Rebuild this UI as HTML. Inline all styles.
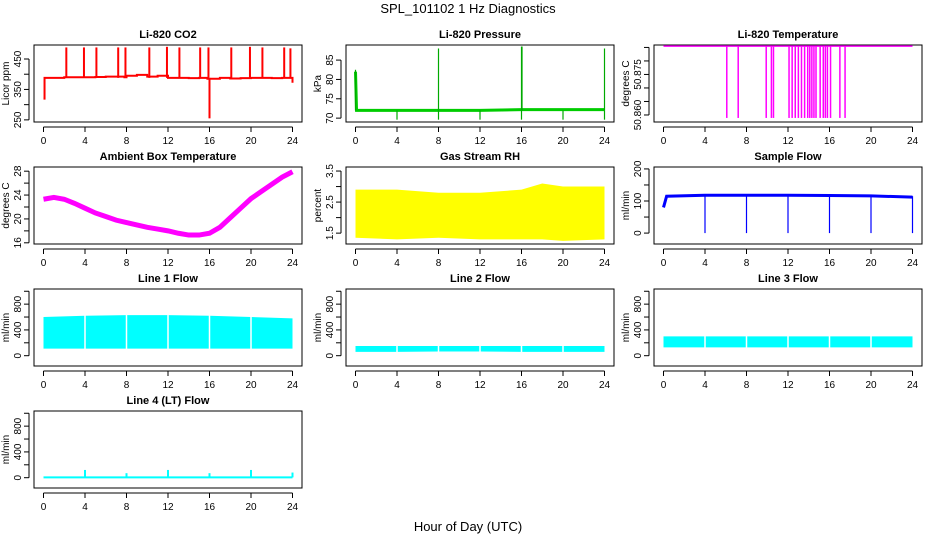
<!DOCTYPE html>
<html><head><meta charset="utf-8"><style>
body{margin:0;background:#fff;}
svg{display:block;font-family:"Liberation Sans",sans-serif;}
</style></head><body>
<svg id="c" width="936" height="540">
<text x="468" y="13" font-size="13" text-anchor="middle">SPL_101102  1 Hz Diagnostics</text>
<text x="468" y="531" font-size="13" text-anchor="middle">Hour of Day (UTC)</text>
</svg>
<script>
// ---- data ----
const xTicks=[0,4,8,12,16,20,24];
const co2Hours=[0,0.1,1,2,3,4,5,6,7,7.8,8,9,10,11,12,13,14,15,15.8,16,17,18,19,20,21,22,23,24];
const co2Base=[320,388,388,390,390,390,391,392,392,390,395,398,392,395,388,388,387,388,385,385,388,386,387,388,388,387,388,372];
const co2SpikeHours=[2.2,3.9,5.1,7.2,7.9,10.2,11.9,13.1,15.1,15.9,16,18.1,19.9,21.1,23.2,23.8];
const co2SpikeVals=[488,488,488,488,488,488,490,488,488,488,255,488,490,488,488,485];
const presHours=[0,0.1,4,8,12,16,20,24];
const presBase=[82,72,72,72,72,72.2,72.2,72.2];
const presSpikeHours=[0,8,16,16.05,24];
const presSpikeVals=[82.5,88,88.5,88.5,88];
const presDipHours=[4,8,12,16,20,24];
const presDipVals=[69.6,69.6,69.6,69.6,69.6,69.6];
const tempHigh=50.8855;
const tempDropHours=[6.1,7.2,9.9,10.4,10.6,12.1,12.4,12.7,13,13.3,13.6,13.9,14.1,14.3,14.5,14.7,15.1,15.4,15.6,15.8,16.1,17,17.5];
const tempLow=50.8589;
const ambHours=[0,1,2,3,4,5,6,7,8,9,10,11,12,13,14,15,16,17,18,19,20,21,22,23,24];
const ambVals=[23.3,23.6,23.3,22.6,21.8,21,20.4,19.8,19.4,19,18.6,18.3,18,17.6,17.3,17.3,17.6,18.6,20.2,21.8,23.4,24.6,25.8,27,27.9];
const rhHours=[0,4,8,12,16,18,20,24];
const rhHigh=[2.9,2.9,2.8,2.8,2.9,3.1,3.0,3.0];
const rhLow=[1.35,1.3,1.35,1.3,1.3,1.3,1.25,1.3];
const sfHours=[0,0.3,4,8,12,16,20,24];
const sfVals=[80,115,118,118,118,117,116,112];
const sfDipHours=[4,8,12,16,20,24];
const sfDipVals=[0,0,0,0,0,0];
const l1Hours=[0,4,8,12,16,20,24];
const l1High=[600,620,630,630,620,600,580];
const l1Low=[110,110,110,110,110,110,110];
const l2High=[150,150,150,150,150,150,150];
const l2Low=[60,60,65,65,60,60,60];
const l3High=[300,300,300,300,300,300,300];
const l3Low=[130,130,130,130,130,130,130];
const l4SpikeHours=[4,8,12,16,20,24];
const l4SpikeVals=[120,70,120,70,120,80];
const l4Base=[5,5,5,5,5,5,5];

const svg=document.getElementById('c');
const NS='http://www.w3.org/2000/svg';
function E(tag,attrs,parent){const e=document.createElementNS(NS,tag);for(const k in attrs)e.setAttribute(k,attrs[k]);(parent||svg).appendChild(e);return e;}
const lefts=[34,346,654], tops=[45,167,289,411], W=268, H=77;
function panel(col,row,title,ylab,ymin,ymax,ticks,labels,name){
  const L=lefts[col],T=tops[row];
  const g=E('g',{});
  
  
  const sx=v=>L+9.5+(v/24)*249, sy=v=>T+H-(v-ymin)/(ymax-ymin)*H;
  const t=E('text',{x:L+W/2,y:T-7,'font-size':11,'font-weight':'bold','text-anchor':'middle'},g);t.textContent=title;
  
  const b=E('rect',{x:L,y:T,width:W,height:H,fill:'none',stroke:'#000'},g);
  
  E('line',{x1:sx(0),x2:sx(24),y1:T+H+5,y2:T+H+5,stroke:'#000'},g);
  xTicks.forEach(v=>{E('line',{x1:sx(v),x2:sx(v),y1:T+H+5,y2:T+H+10,stroke:'#000'},g);
    const l=E('text',{x:sx(v),y:T+H+22,'font-size':10,'text-anchor':'middle'},g);l.textContent=v;
    });
  E('line',{x1:L-5,x2:L-5,y1:sy(ticks[0]),y2:sy(ticks[ticks.length-1]),stroke:'#000'},g);
  ticks.forEach((v,i)=>{E('line',{x1:L-10,x2:L-5,y1:sy(v),y2:sy(v),stroke:'#000'},g);
    if(labels[i]){const l=E('text',{x:L-13,y:sy(v),'font-size':10,'text-anchor':'middle',transform:`rotate(-90 ${L-13} ${sy(v)})`},g);l.textContent=labels[i];
    }});
  const yl=E('text',{x:L-25,y:T+H/2,'font-size':10,'text-anchor':'middle',transform:`rotate(-90 ${L-25} ${T+H/2})`},g);yl.textContent=ylab;
  
  return {g,sx,sy};
}
function line(p,xs,ys,col,w,name,step){let d='';xs.forEach((x,i)=>{d+=(i?(step?'H'+p.sx(x)+'V'+p.sy(ys[i]):'L'+p.sx(x)+' '+p.sy(ys[i])):'M'+p.sx(x)+' '+p.sy(ys[i]));});
  const e=E('path',{d,fill:'none',stroke:col,'stroke-width':w},p.g);}
function spikes(p,xs,ys,base,col,w,name){xs.forEach((x,i)=>{const e=E('line',{x1:p.sx(x),x2:p.sx(x),y1:p.sy(base),y2:p.sy(ys[i]),stroke:col,'stroke-width':w},p.g);
  });}
function band(p,xs,hi,lo,col,name,gaps){let d='';xs.forEach((x,i)=>{d+=(i?'L':'M')+p.sx(x)+' '+p.sy(hi[i]);});
  for(let i=xs.length-1;i>=0;i--)d+='L'+p.sx(xs[i])+' '+p.sy(lo[i]);
  const e=E('path',{d:d+'Z',fill:col},p.g);
  (gaps||[]).forEach(x=>{E('line',{x1:p.sx(x),x2:p.sx(x),y1:p.sy(hi[0])-2,y2:p.sy(lo[0])+2,stroke:'#fff','stroke-width':1.5},p.g);});}

// CO2
let p=panel(0,0,'Li-820 CO2','Licor ppm',243,496,[250,300,350,400,450],['250','','350','','450'],'co2');
line(p,co2Hours,co2Base,'#f00',2,'co2-line',true);
spikes(p,co2SpikeHours,co2SpikeVals,388,'#f00',2,'co2-spike');
// Pressure
p=panel(1,0,'Li-820 Pressure','kPa',69,88.9,[70,75,80,85],['70','75','80','85'],'pressure');
line(p,presHours,presBase,'#0c0',3,'pressure-line',false);
spikes(p,presSpikeHours,presSpikeVals,72,'#0a0',1.2,'pressure-spike');
spikes(p,presDipHours,presDipVals,72,'#0a0',1.2,'pressure-dip');
// Temperature
p=panel(2,0,'Li-820 Temperature','degrees C',50.8574,50.8859,[50.860,50.865,50.870,50.875,50.880,50.885],['50.860','','','50.875','',''],'li820-temp');
line(p,[0,24],[tempHigh,tempHigh],'#f0f',1.5,'li820-temp-line',false);
spikes(p,tempDropHours,tempDropHours.map(()=>tempLow),tempHigh,'#f0f',1.5,'li820-temp-drop');
// Ambient
p=panel(0,1,'Ambient Box Temperature','degrees C',15.8,28.7,[16,18,20,22,24,26,28],['16','','20','','24','','28'],'ambient');
line(p,ambHours,ambVals,'#f0f',5,'ambient-line',false);
// RH
p=panel(1,1,'Gas Stream RH','percent',1.15,3.63,[1.5,2,2.5,3,3.5],['1.5','','2.5','','3.5'],'rh');
band(p,rhHours,rhHigh,rhLow,'#ff0','rh-band');
// Sample flow
p=panel(2,1,'Sample Flow','ml/min',-34,206,[0,50,100,150,200],['0','','100','','200'],'sample-flow');
line(p,sfHours,sfVals,'#00f',3,'sample-flow-line',false);
spikes(p,sfDipHours,sfDipVals,115,'#00f',1.2,'sample-flow-dip');
const fT=[0,200,400,600,800,1000],fL=['0','','400','','800',''];
p=panel(0,2,'Line 1 Flow','ml/min',-160,1035,fT,fL,'line1');
band(p,l1Hours,l1High,l1Low,'#0ff','line1-band',[4,8,12,16,20]);
p=panel(1,2,'Line 2 Flow','ml/min',-160,1035,fT,fL,'line2');
band(p,l1Hours,l2High,l2Low,'#0ff','line2-band',[4,8,12,16,20]);
p=panel(2,2,'Line 3 Flow','ml/min',-160,1035,fT,fL,'line3');
band(p,l1Hours,l3High,l3Low,'#0ff','line3-band',[4,8,12,16,20]);
p=panel(0,3,'Line 4 (LT) Flow','ml/min',-160,1035,fT,fL,'line4');
line(p,l1Hours,l4Base,'#0ff',2,'line4-line',false);
spikes(p,l4SpikeHours,l4SpikeVals,5,'#0ff',2,'line4-spike');
</script>
</body></html>
